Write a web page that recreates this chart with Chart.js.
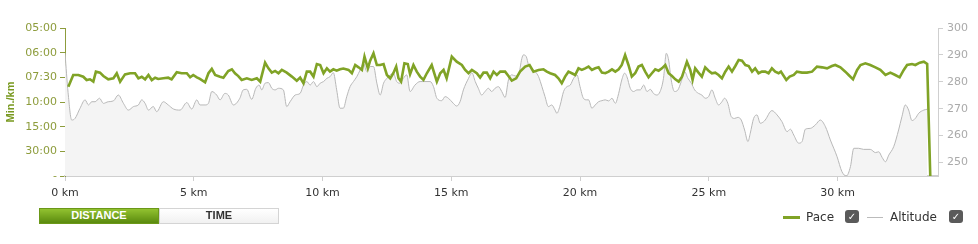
<!DOCTYPE html>
<html>
<head>
<meta charset="utf-8">
<script src="https://cdn.jsdelivr.net/npm/chart.js@4"></script>
<style>
  body { margin: 0; background: #fff; }
  #wrap { position: relative; width: 978px; height: 244px; overflow: hidden; }
  canvas { position: absolute; left: 0; top: 0; }
  .btn { position: absolute; top: 208px; height: 16px; line-height: 16px; text-align: center;
         font: bold 11px "Liberation Sans", Arial, sans-serif; box-sizing: border-box; }
  #dist { left: 39px; width: 120px; color: #fff; background: linear-gradient(#92c230, #5a8a0e); border: 1px solid #6b9818; }
  #time { left: 159px; width: 120px; color: #333; background: linear-gradient(#fff, #f1f1f1); border: 1px solid #d4d4d4; }
  .lg { position: absolute; top: 210px; font: 12px "DejaVu Sans", sans-serif; color: #333; line-height: 15px; }
  .sw { position: absolute; }
  .chk { position: absolute; top: 210px; width: 14px; height: 13px; background: #5a5a5a; border-radius: 3px;
         color: #fff; font: bold 10px "DejaVu Sans", sans-serif; text-align: center; line-height: 13px; }
</style>
</head>
<body>
<div id="wrap">
  <canvas id="myChart" width="978" height="244"></canvas>
  <div class="btn" id="dist">DISTANCE</div>
  <div class="btn" id="time">TIME</div>
  <div class="sw" style="left:783px; top:216px; width:17px; height:3px; background:#80a326;"></div>
  <div class="lg" style="left:806px;">Pace</div>
  <div class="chk" style="left:845px;">✓</div>
  <div class="sw" style="left:867px; top:217px; width:16px; height:1px; background:#bbb;"></div>
  <div class="lg" style="left:890px;">Altitude</div>
  <div class="chk" style="left:949px;">✓</div>
</div>
<script>
// Pace is plotted as speed (km/h) on a linear axis, labelled as min/km
var paceKm = [0.13,0.32,0.52,0.71,0.84,0.97,1.10,1.20,1.36,1.49,1.68,1.88,2.01,2.14,2.33,2.53,2.72,2.85,2.98,3.11,3.24,3.37,3.50,3.62,3.82,4.01,4.14,4.34,4.53,4.73,4.86,4.98,5.12,5.24,5.44,5.57,5.70,5.83,6.02,6.15,6.34,6.48,6.60,6.73,
  6.86,7.06,7.25,7.45,7.58,7.77,7.90,8.03,8.16,8.29,8.42,8.61,8.81,9.00,9.13,9.26,9.39,9.52,9.65,9.78,9.91,10.04,10.17,10.29,10.42,10.55,10.68,10.81,11.01,11.14,11.27,11.40,11.53,11.63,11.76,11.85,11.98,12.11,12.24,12.37,12.50,12.63,12.75,12.86,12.95,13.05,13.18,13.31,13.40,13.53,
  13.66,13.79,13.92,14.05,14.24,14.44,14.57,14.70,14.82,15.02,15.21,15.41,15.54,15.67,15.80,15.99,16.12,16.25,16.38,16.51,16.64,16.77,16.90,17.09,17.22,17.35,17.52,17.67,17.87,18.04,18.19,18.39,18.58,18.71,18.84,19.03,19.16,19.29,19.42,19.55,19.68,19.81,19.94,20.07,20.20,
  20.33,20.46,20.59,20.72,20.85,20.98,21.11,21.24,21.37,21.50,21.62,21.75,21.88,22.01,22.14,22.27,22.40,22.53,22.66,22.79,22.92,23.05,23.18,23.31,23.44,23.57,23.70,23.83,23.96,24.15,24.28,24.37,24.47,24.60,24.73,24.86,24.99,25.12,25.25,25.38,25.51,25.64,25.77,25.90,26.03,26.16,26.29,26.42,26.55,26.68,26.80,26.93,27.06,
  27.19,27.32,27.45,27.58,27.71,27.80,27.91,28.01,28.14,28.30,28.42,28.62,28.81,29.01,29.20,29.40,29.59,29.78,29.91,30.11,30.30,30.43,30.60,30.76,30.89,31.08,31.27,31.47,31.66,31.86,32.05,32.24,32.41,32.57,32.70,32.89,33.02,33.19,33.35,33.48,33.60];
var paceSpeed = [7.24,8.19,8.19,8.05,7.78,7.84,7.65,8.46,8.38,8.11,7.84,7.92,8.33,7.65,8.24,8.33,8.33,7.92,8.05,7.84,8.19,7.78,7.97,7.87,7.92,7.97,7.84,8.41,8.33,8.33,8.00,8.19,8.00,7.87,7.60,8.33,8.68,8.19,8.05,7.97,8.51,8.65,8.33,8.10,
  7.79,7.92,7.79,7.92,7.65,9.19,8.73,8.38,8.52,8.33,8.60,8.38,8.06,7.73,7.98,7.52,8.46,8.46,8.06,9.08,9.00,8.33,8.73,8.46,8.65,8.54,8.65,8.71,8.60,8.33,9.00,8.81,8.60,9.68,8.73,9.35,9.95,9.00,9.00,9.08,8.19,7.92,8.33,8.87,7.92,7.65,9.14,9.08,8.25,9.00,
  8.46,8.06,7.79,8.33,9.00,7.65,8.33,8.60,7.92,9.68,9.27,9.00,8.60,8.33,8.60,8.33,7.98,8.38,8.38,7.92,8.46,8.19,8.46,8.46,8.11,7.73,7.92,8.46,8.87,9.00,8.46,8.60,8.65,8.46,8.33,8.19,7.92,7.52,8.06,8.46,8.33,8.19,8.73,8.60,8.73,
  8.87,8.60,8.73,8.81,8.38,8.33,8.46,8.65,8.46,8.65,9.00,9.81,9.00,8.06,8.33,8.87,9.00,8.46,8.00,8.33,8.65,8.54,8.73,9.00,8.33,8.11,7.84,7.65,8.06,9.27,8.60,7.79,8.73,8.38,8.06,8.81,8.54,8.33,8.38,8.19,7.92,8.46,8.87,8.46,8.92,9.41,9.35,9.00,8.92,8.46,8.73,8.33,8.46,
  8.46,8.33,8.73,8.46,8.33,8.46,8.11,7.79,8.06,8.19,8.46,8.38,8.38,8.46,8.87,8.81,8.73,8.92,9.00,8.81,8.46,8.19,7.84,8.60,9.00,9.14,9.00,8.81,8.60,8.19,8.38,8.19,8.00,8.60,9.00,9.08,9.00,9.19,9.27,9.08,0];

var altKm = [0.00,0.12,0.26,0.39,0.58,0.78,0.91,1.04,1.17,1.34,1.49,1.68,1.88,2.07,2.27,2.46,2.66,2.85,2.98,3.11,3.24,3.43,3.56,3.82,4.01,4.21,4.47,4.73,4.92,5.12,5.24,5.44,5.57,5.70,5.89,6.02,6.21,6.34,6.54,
  6.79,6.92,7.06,7.25,7.41,7.54,7.64,7.77,7.90,8.03,8.16,8.29,8.48,8.61,8.74,8.94,9.13,9.26,9.39,9.52,9.65,9.78,9.91,10.04,10.17,10.29,10.42,10.55,10.68,10.81,10.94,11.07,11.20,11.33,11.46,11.59,11.72,11.85,11.98,12.11,12.24,12.37,12.50,12.63,12.75,12.88,13.01,13.14,13.27,
  13.40,13.59,13.79,13.98,14.18,14.31,14.44,14.63,14.76,14.89,15.08,15.21,15.34,15.47,15.67,15.80,15.93,16.05,16.18,16.31,16.44,16.57,16.70,16.83,16.96,17.09,17.22,17.35,17.48,17.61,17.74,17.80,17.91,18.00,18.13,18.26,18.39,18.52,18.64,18.77,18.90,19.03,19.10,19.23,19.36,19.49,19.62,19.75,19.88,20.00,20.13,20.26,
  20.33,20.46,20.59,20.72,20.85,20.98,21.11,21.24,21.37,21.50,21.62,21.73,21.82,21.95,22.08,22.21,22.34,22.47,22.60,22.73,22.85,22.98,23.11,23.24,23.35,23.44,23.54,23.67,23.80,23.93,24.06,24.19,24.32,24.45,24.60,24.73,24.86,24.99,25.12,25.25,25.38,25.51,25.61,25.74,25.87,26.00,26.13,26.26,26.39,26.52,26.61,26.74,26.87,27.00,27.13,
  27.19,27.45,27.65,27.84,28.04,28.17,28.30,28.49,28.62,28.75,28.94,29.14,29.33,29.53,29.72,29.98,30.17,30.34,30.50,30.63,30.82,31.01,31.27,31.47,31.60,31.73,31.86,31.99,32.18,32.37,32.50,32.63,32.76,32.89,33.02,33.15,33.35,33.48];
var altM = [290.7,276.0,265.8,266.4,270.1,273.3,271.4,272.6,272.6,273.9,272.0,272.6,272.9,275.1,272.0,269.5,270.8,271.4,273.3,272.0,269.5,270.8,268.9,272.6,271.4,269.9,269.5,272.3,269.9,273.3,271.4,271.4,272.0,276.4,275.1,273.3,275.7,275.1,271.4,
  273.9,277.0,277.2,273.5,277.6,278.8,277.0,279.5,279.7,277.6,277.0,277.6,277.0,270.8,272.6,275.1,275.7,278.8,280.1,278.8,280.1,278.2,279.5,280.1,281.3,281.9,283.4,277.0,270.2,270.2,274.5,278.2,280.1,281.9,284.4,286.9,283.8,285.7,285.7,279.5,275.1,279.5,281.3,282.6,283.2,280.1,279.5,281.3,282.6,
  276.4,278.8,280.1,280.1,280.1,278.2,273.9,273.0,274.5,273.9,272.0,271.0,272.6,277.0,281.3,283.4,280.1,277.6,275.1,276.4,277.6,276.4,277.6,278.2,276.4,274.2,280.7,282.6,282.2,282.6,288.7,290.0,289.4,286.3,285.0,283.8,281.9,278.2,274.5,270.8,271.4,269.5,268.3,271.4,276.4,278.2,278.8,281.3,282.6,278.2,273.9,273.3,
  273.3,270.2,271.4,272.6,273.0,273.3,272.9,273.9,272.0,275.7,280.7,283.2,281.9,277.6,276.4,277.0,277.0,278.8,276.4,277.2,275.7,275.1,276.4,281.3,290.6,288.1,280.7,276.4,277.0,280.1,283.8,281.3,279.5,277.0,275.7,275.1,273.9,274.5,277.0,273.9,271.4,272.6,273.9,272.0,267.1,266.4,266.8,265.8,262.1,257.8,260.9,266.4,267.7,264.6,265.2,
  265.8,269.3,267.7,265.2,261.5,262.4,260.2,257.2,257.8,262.4,262.7,264.0,265.8,263.3,258.4,252.2,246.6,245.0,248.5,255.3,255.3,254.9,254.9,253.7,254.0,251.9,250.3,252.8,255.9,262.1,267.1,271.4,269.5,265.6,266.4,268.3,269.5,269.8];

// tick labels for speed 0,2,4,...,12 km/h
var paceTickLabels = ['-', '30:00', '15:00', '10:00', '07:30', '06:00', '05:00'];
var altTicks = [250, 260, 270, 280, 290, 300];
var kmTicks = [0, 5, 10, 15, 20, 25, 30];

const green = '#80a326';
const olive = '#8d9c3c';

const paceData = paceKm.map((k, i) => ({ x: k, y: paceSpeed[i] }));
const altData = altKm.map((k, i) => ({ x: k, y: altM[i] }));

const ctx = document.getElementById('myChart').getContext('2d');
const chart = new Chart(ctx, {
    type: 'line',
    data: {
        datasets: [
            {
                label: 'Pace',
                data: paceData,
                yAxisID: 'yPace',
                borderColor: green,
                borderWidth: 2.6,
                pointRadius: 0,
                fill: false,
                tension: 0
            },
            {
                label: 'Altitude',
                data: altData,
                yAxisID: 'yAlt',
                borderColor: '#b8b8b8',
                backgroundColor: '#f4f4f4',
                borderWidth: 1,
                pointRadius: 0,
                fill: 'start',
                tension: 0.4,
                cubicInterpolationMode: 'monotone'
            }
        ]
    },
    options: {
        responsive: false,
        animation: false,
        layout: { padding: { top: 28, left: 0, right: 0, bottom: 0 } },
        plugins: { legend: { display: false }, tooltip: { enabled: false } },
        scales: {
            x: {
                type: 'linear',
                min: 0,
                max: 33.9,
                afterFit: (s) => { s.height = 68; },
                afterBuildTicks: (s) => { s.ticks = kmTicks.map(v => ({ value: v })); },
                grid: { drawOnChartArea: false, tickLength: 5, tickColor: '#cfcfcf' },
                border: { color: '#cfcfcf', width: 2 },
                ticks: {
                    padding: 6,
                    color: '#333',
                    font: { family: 'DejaVu Sans', size: 11 },
                    maxRotation: 0,
                    callback: (v) => v + ' km'
                }
            },
            yPace: {
                type: 'linear',
                position: 'left',
                min: 0,
                max: 12,
                afterFit: (s) => { s.width = 65; },
                afterBuildTicks: (s) => { s.ticks = paceTickLabels.map((t, i) => ({ value: i * 2 })); },
                grid: { drawOnChartArea: false, tickLength: 5, tickColor: olive },
                border: { color: olive },
                title: {
                    display: true,
                    text: 'Min./km',
                    color: '#7a9a22',
                    font: { family: 'Liberation Sans', size: 11, weight: 'bold' },
                    padding: { top: 4, bottom: 0 }
                },
                ticks: {
                    padding: 3,
                    color: olive,
                    font: { family: 'DejaVu Sans', size: 11 },
                    callback: (v) => paceTickLabels[Math.round(v / 2)]
                }
            },
            yAlt: {
                type: 'linear',
                position: 'right',
                min: 245,
                max: 300,
                afterFit: (s) => { s.width = 40; },
                afterBuildTicks: (s) => { s.ticks = altTicks.map(v => ({ value: v })); },
                grid: { drawOnChartArea: false, tickLength: 5, tickColor: '#cfcfcf' },
                border: { color: '#cfcfcf' },
                ticks: {
                    padding: 4,
                    color: '#aaa',
                    font: { family: 'DejaVu Sans', size: 11 }
                }
            }
        }
    }
});
</script>
</body>
</html>
